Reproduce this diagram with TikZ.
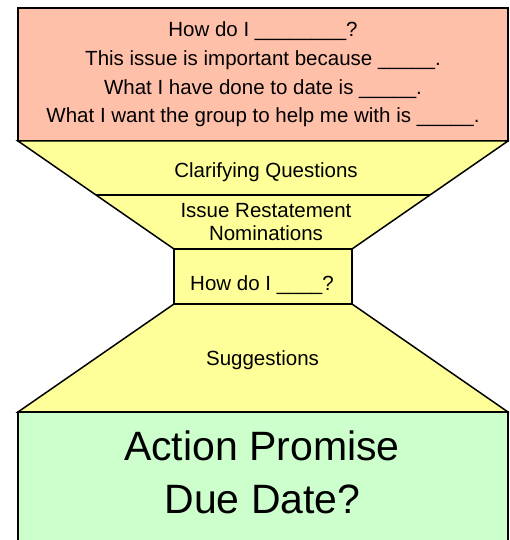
\documentclass[tikz,border=0pt]{standalone}
\usepackage{fontspec}
\setmainfont{Liberation Sans}
\usetikzlibrary{calc}

\definecolor{issuered}{HTML}{FFC0AA}
\definecolor{funnelyellow}{HTML}{FFFF99}
\definecolor{actiongreen}{HTML}{CCFFCC}

\tikzset{
  stage/.style={draw=black, line width=1.5pt, line join=miter},
  say/.style={anchor=base, inner sep=0pt, font=\fontsize{20.5}{24}\selectfont},
  bigsay/.style={anchor=base, inner sep=0pt, font=\fontsize{41}{50}\selectfont},
}

\begin{document}
\begin{tikzpicture}[x=1pt,y=-1pt]
  \useasboundingbox (0,0) rectangle (509,540);
  \clip (0,0) rectangle (509,540);

  % corners of the funnel
  \coordinate (wideL) at (18,141);
  \coordinate (wideR) at (508,141);
  \coordinate (neckTL) at (174,249);
  \coordinate (neckTR) at (352,249);
  \coordinate (neckBL) at (174,304);
  \coordinate (neckBR) at (352,304);
  \coordinate (baseL) at (18,412);
  \coordinate (baseR) at (508,412);

  % the issue box, the funnel and the action box
  \draw[stage, fill=issuered] (18,8) rectangle (wideR);
  \draw[stage, fill=funnelyellow] (wideL) -- (wideR) -- (neckTR) -- (neckTL) -- cycle;
  \draw[stage] ($(wideL)!0.5!(neckTL)$) -- ($(wideR)!0.5!(neckTR)$);
  \draw[stage, fill=funnelyellow] (neckTL) rectangle (neckBR);
  \draw[stage, fill=funnelyellow] (neckBL) -- (neckBR) -- (baseR) -- (baseL) -- cycle;
  \draw[stage, fill=actiongreen] (baseL) rectangle (508,548);

  % texts
  \node(howdo)[say] at (263,37) {How do I \_\_\_\_\_\_\_\_?};
  \node(because)[say] at (263,66) {This issue is important because \_\_\_\_\_.};
  \node(donesofar)[say] at (263,95) {What I have done to date is \_\_\_\_\_.};
  \node(helpwith)[say] at (263,123) {What I want the group to help me with is \_\_\_\_\_.};
  \node(clarify)[say] at (266,177) {Clarifying Questions};
  \node(restate)[say] at (266,217) {Issue Restatement};
  \node(nominate)[say] at (266,240.5) {Nominations};
  \node(howdoshort)[say] at (262,290) {How do I \_\_\_\_?};
  \node(suggest)[say] at (262.5,365) {Suggestions};
  \node(promise)[bigsay] at (262,460) {Action Promise};
  \node(duedate)[bigsay] at (262.5,513) {Due Date?};
\end{tikzpicture}
\end{document}
